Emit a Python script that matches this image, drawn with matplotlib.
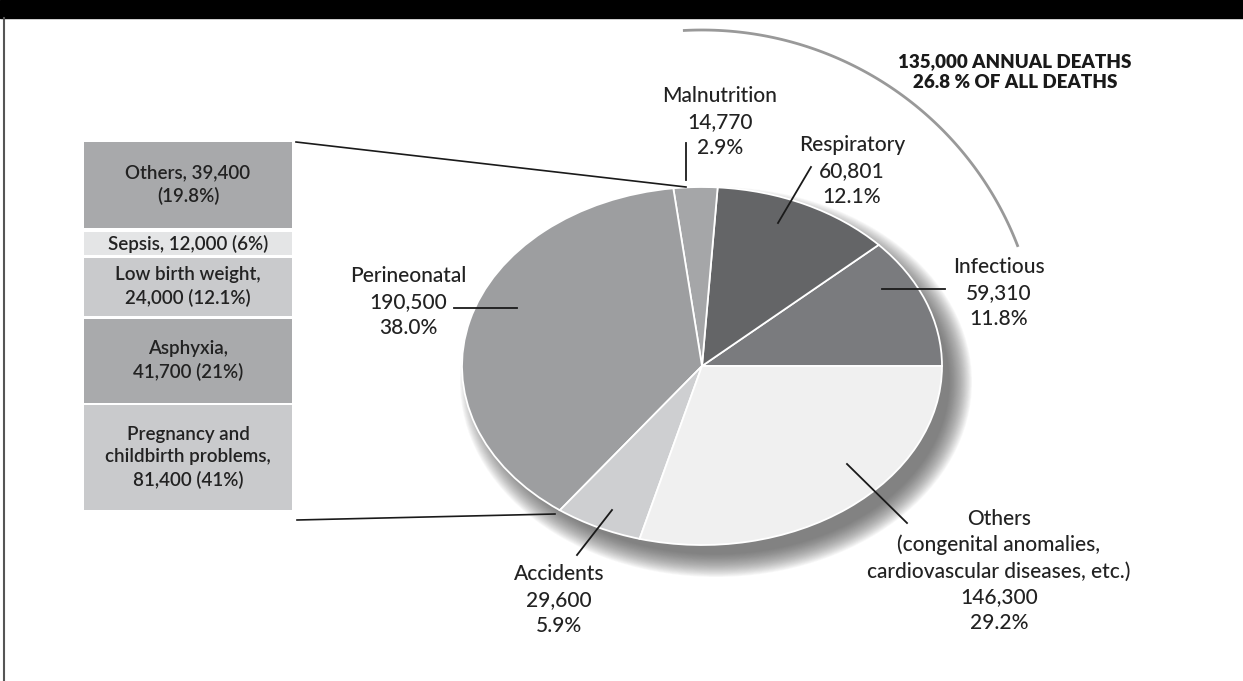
import matplotlib
matplotlib.use("Agg")
import matplotlib.pyplot as plt
from matplotlib.patches import Ellipse, Rectangle
import numpy as np

# ---------------- data ----------------
pie_names = ["Infectious", "Respiratory", "Malnutrition", "Perineonatal", "Accidents",
             "Others\n(congenital anomalies,\ncardiovascular diseases, etc.)"]
pie_values = [59310, 60801, 14770, 190500, 29600, 146300]
pie_pcts = ["11.8%", "12.1%", "2.9%", "38.0%", "5.9%", "29.2%"]
pie_colors = ["#7a7b7e", "#646567", "#a5a6a8", "#9d9ea0", "#cecfd1", "#f0f0f0"]

box_labels = ["Others, 39,400\n(19.8%)", "Sepsis, 12,000 (6%)", "Low birth weight,\n24,000 (12.1%)",
              "Asphyxia,\n41,700 (21%)", "Pregnancy and\nchildbirth problems,\n81,400 (41%)"]
box_values = [39400, 12000, 24000, 41700, 81400]
box_colors = ["#a8a9ab", "#e4e5e6", "#c9cacc", "#a9aaac", "#c9cacc"]

title_lines = ["135,000 ANNUAL DEATHS", "26.8 % OF ALL DEATHS"]

FONT = "Lato"
W, H = 1243, 681
fig = plt.figure(figsize=(W / 100, H / 100), dpi=100)


def pixel_axes(z):
    a = fig.add_axes([0, 0, 1, 1])
    a.set_xlim(0, W)
    a.set_ylim(H, 0)
    a.axis("off")
    a.set_zorder(z)
    a.patch.set_alpha(0)
    return a


bg = pixel_axes(0)
ov = pixel_axes(2)

# header band and left border
bg.add_patch(Rectangle((0, 0), W, 18, color="black", zorder=1))
bg.plot([4.5, 4.5], [18, H], color="#555555", lw=1.5, zorder=1)

# pie geometry (pixels)
cx, cy, rx, ry = 702, 366, 240, 179

# soft shadow (offset to lower right)
for k in range(26):
    s = 16 - k * 0.9
    bg.add_patch(Ellipse((cx + 14, cy + 16), 2 * (rx + s), 2 * (ry + s),
                         color="#4a4a4a", alpha=0.04, lw=0, zorder=2))

pax = fig.add_axes([(cx - rx) / W, (H - cy - ry) / H, 2 * rx / W, 2 * ry / H])
pax.set_zorder(1)
wedges, _ = pax.pie(pie_values, colors=pie_colors, startangle=0, counterclock=True,
                    wedgeprops=dict(edgecolor="white", linewidth=1.3))
pax.set_aspect("auto")
pax.set_xlim(-1, 1)
pax.set_ylim(-1, 1)
pax.axis("off")

# pie labels
label_pos = [(999, 293), (852, 171), (720, 122), (408, 302), (559, 600), (999, 571)]
for name, val, pct, (x, y) in zip(pie_names, pie_values, pie_pcts, label_pos):
    ov.text(x, y, f"{name}\n{val:,}\n{pct}", ha="center", va="center", fontsize=15,
            family=FONT, weight="medium", color="#222222", linespacing=1.37, zorder=5)

# leader lines
leaders = [((882, 289), (945, 289)), ((811, 167), (778, 223)), ((686, 143), (686, 180)),
           ((454, 308), (517, 308)), ((577, 555), (612, 510)), ((847, 464), (907, 523))]
for (x0, y0), (x1, y1) in leaders:
    ov.plot([x0, x1], [y0, y1], color="#1a1a1a", lw=1.3, zorder=5)

# left boxes
box_tops = [142, 232, 258, 319, 405]
box_heights = [86, 23, 58, 84, 105]
bx0, bx1 = 84, 292
for lab, val, col, top, hgt in zip(box_labels, box_values, box_colors, box_tops, box_heights):
    bg.add_patch(Rectangle((bx0, top), bx1 - bx0, hgt, color=col, lw=0, zorder=3))
    ov.text((bx0 + bx1) / 2, top + hgt / 2, lab, ha="center", va="center", fontsize=13.5,
            family=FONT, weight="semibold", color="#222222", linespacing=1.4, zorder=5)

# connector lines from boxes to pie
ov.plot([296, 686], [142, 187], color="#1a1a1a", lw=1.2, zorder=5)
ov.plot([297, 555], [520, 514], color="#1a1a1a", lw=1.2, zorder=5)

# arc around the first three slices (Infectious + Respiratory + Malnutrition)
t = np.linspace(np.deg2rad(21), np.deg2rad(93), 100)
ax_r, ay_r = 338, 336
bg.plot(cx + ax_r * np.cos(t), cy - ay_r * np.sin(t), color="#999999", lw=2, zorder=4)

# title
ov.text(1015, 62, title_lines[0], ha="center", va="center", fontsize=13.5, family=FONT,
        weight="heavy", color="#1a1a1a", zorder=5)
ov.text(1015, 83, title_lines[1], ha="center", va="center", fontsize=13.5, family=FONT,
        weight="heavy", color="#1a1a1a", zorder=5)

fig.savefig("out.png", dpi=100)
